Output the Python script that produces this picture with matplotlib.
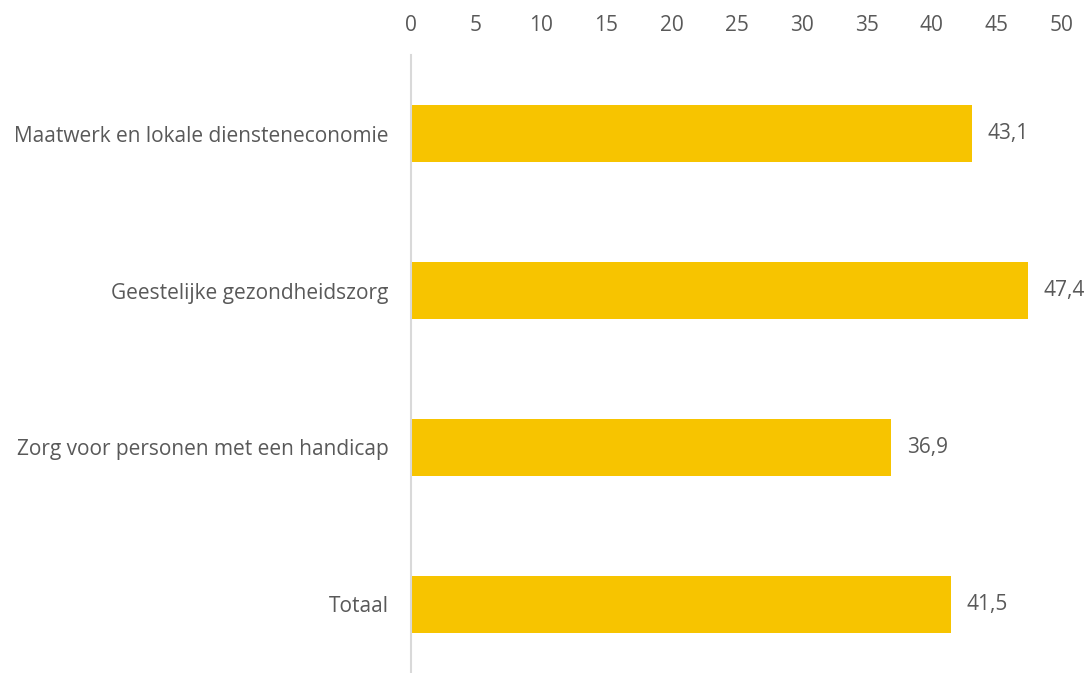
import matplotlib.pyplot as plt

# sector names and values
categories = ["Maatwerk en lokale diensteneconomie",
              "Geestelijke gezondheidszorg",
              "Zorg voor personen met een handicap",
              "Totaal"]
values = [43.1, 47.4, 36.9, 41.5]
xticks = [0, 5, 10, 15, 20, 25, 30, 35, 40, 45, 50]

bar_color = "#F7C400"
text_color = "#595959"

plt.rcParams['font.family'] = ['Open Sans', 'DejaVu Sans']

fig = plt.figure(figsize=(10.88, 6.73), dpi=100)
ax = fig.add_axes([411/1088, 0.0, (1062-411)/1088, 1 - 55/673])

pos = list(range(len(categories)))
ax.barh(pos, values, height=0.363, color=bar_color)

for p, v in zip(pos, values):
    ax.annotate(f"{v:.1f}".replace(".", ","), (v, p), xytext=(11, 0),
                textcoords="offset points", va="center", ha="left",
                fontsize=15, color=text_color)

ax.set_xlim(0, 50)
ax.set_ylim(3.5 - 10/157, -0.5)
ax.set_xticks(xticks)
ax.set_yticks(pos)
ax.set_yticklabels(categories)
ax.xaxis.tick_top()
ax.tick_params(axis='x', length=0, pad=14, labelsize=15, labelcolor=text_color)
ax.tick_params(axis='y', length=0, pad=16, labelsize=15, labelcolor=text_color)

for s in ["top", "right", "bottom"]:
    ax.spines[s].set_visible(False)
ax.spines["left"].set_color("#d9d9d9")
ax.spines["left"].set_linewidth(1.5)

fig.savefig("out.png", dpi=100)
